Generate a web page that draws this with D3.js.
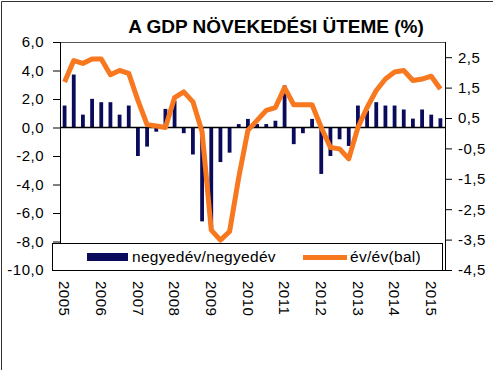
<!DOCTYPE html>
<html>
<head>
<meta charset="utf-8">
<script src="https://cdn.jsdelivr.net/npm/d3@7.9.0/dist/d3.min.js"></script>
<style>
  body { margin: 0; background: #fff; }
  svg text { font-family: "Liberation Sans", Arial, sans-serif; fill: #000; }
</style>
</head>
<body>
<svg id="chart" width="493" height="370"></svg>
<script>
// years shown on the category axis, quarters from 2005 Q1 to 2015 Q2
const years = [2005, 2006, 2007, 2008, 2009, 2010, 2011, 2012, 2013, 2014, 2015];
const quarters = years.flatMap(y => [1, 2, 3, 4].map(q => `${y} Q${q}`)).slice(0, 42);

// negyedév/negyedév (right axis)
const qoq = [0.91, 1.93, 0.61, 1.13, 1.02, 1.02, 0.61, 0.91,
  -0.75, -0.44, 0.05, 0.8, 1.07, 0.0, -0.7, -2.9,
  -3.2, -0.95, -0.64, 0.3, 0.47, 0.3, 0.3, 0.41,
  1.57, -0.36, 0.0, 0.47, -1.34, -0.75, -0.2, -0.42,
  0.91, 0.74, 1.02, 0.91, 0.91, 0.78, 0.48, 0.78,
  0.61, 0.49];

// év/év (left axis)
const yoy = [3.2, 4.7, 4.5, 4.8, 4.8, 3.7, 4.0, 3.8,
  1.9, 0.2, 0.1, 0.0, 2.1, 2.5, 1.8, -0.3,
  -7.2, -7.9, -7.3, -3.5, -0.2, 0.5, 1.2, 1.4,
  2.8, 1.6, 1.6, 1.6, 0.0, -1.4, -1.5, -2.2,
  0.0, 1.4, 2.6, 3.4, 3.9, 4.0, 3.3, 3.4,
  3.6, 2.7];

const leftTicks = [6, 4, 2, 0, -2, -4, -6, -8, -10];
const rightTicks = [2.5, 1.5, 0.5, -0.5, -1.5, -2.5, -3.5, -4.5];

const svg = d3.select('#chart');
const locale = d3.formatLocale({ decimal: ',', thousands: ' ', grouping: [3], currency: ['', ''], minus: '-' });
const fmt = locale.format('.1f');

const x = d3.scaleBand().domain(quarters).range([60, 445]);
const yL = d3.scaleLinear().domain([-10, 6]).range([270, 42]);
const yR = d3.scaleLinear().domain([-4.5, 3]).range([270, 42]);

// outer frame (left + top)
svg.append('path').attr('d', 'M1.5,370V1.5H493').attr('fill', 'none').attr('stroke', '#333');

// title
svg.append('text')
  .attr('x', 276).attr('y', 33)
  .attr('text-anchor', 'middle')
  .style('font-size', '19px').style('font-weight', 'bold')
  .text('A GDP NÖVEKEDÉSI ÜTEME (%)');

// plot top border
svg.append('line').attr('x1', 60).attr('x2', 445).attr('y1', 42.5).attr('y2', 42.5)
  .attr('stroke', '#555');

// bars start at the zero line
const base = yL(0);
const bw = 3.8;
svg.append('g').selectAll('rect')
  .data(qoq)
  .join('rect')
  .attr('x', (d, i) => x(quarters[i]) + x.bandwidth() / 2 - bw / 2)
  .attr('width', bw)
  .attr('y', d => Math.min(base, yR(d)))
  .attr('height', d => Math.abs(yR(d) - base))
  .attr('fill', '#0b0b5c');

// zero line
svg.append('line').attr('x1', 60).attr('x2', 445).attr('y1', base).attr('y2', base)
  .attr('stroke', '#000').attr('stroke-width', 1.5);

// yoy line
const line = d3.line()
  .x((d, i) => x(quarters[i]) + x.bandwidth() / 2)
  .y(d => yL(d));
svg.append('path')
  .datum(yoy)
  .attr('d', line)
  .attr('fill', 'none')
  .attr('stroke', '#f7781e')
  .attr('stroke-width', 5)
  .attr('stroke-linejoin', 'round');

// axes
const axL = svg.append('g').attr('transform', 'translate(60,0)')
  .call(d3.axisLeft(yL).tickValues(leftTicks).tickFormat(fmt).tickSize(7).tickPadding(9));
const axR = svg.append('g').attr('transform', 'translate(445,0)')
  .call(d3.axisRight(yR).tickValues(rightTicks).tickFormat(fmt).tickSize(7).tickPadding(6));
const axB = svg.append('g').attr('transform', 'translate(0,270)')
  .call(d3.axisBottom(x).tickValues(years.map(y => `${y} Q1`)).tickFormat(d => d.slice(0, 4)).tickSize(0));

[axL, axR, axB].forEach(g => {
  g.selectAll('path.domain').attr('stroke', '#000');
  g.selectAll('line').attr('stroke', '#000');
  g.selectAll('text').style('font-size', '15px').style('font-family', '"Liberation Sans", Arial, sans-serif')
    .style('letter-spacing', '0.5px');
});
axL.select('path.domain').attr('d', 'M0.5,42V270');
axR.select('path.domain').attr('d', 'M0.5,42V270');
axB.selectAll('text')
  .attr('y', 0).attr('x', 11).attr('dy', '0.35em')
  .attr('transform', 'rotate(90)')
  .style('text-anchor', 'start');

// legend box covering the bottom of the plot
const lg = svg.append('g');
lg.append('rect').attr('x', 52.5).attr('y', 243.5).attr('width', 390).attr('height', 27)
  .attr('fill', '#fff').attr('stroke', '#000');
lg.append('rect').attr('x', 87).attr('y', 253).attr('width', 41).attr('height', 8).attr('fill', '#0b0b5c');
lg.append('text').attr('x', 132).attr('y', 262).style('font-size', '15.5px').style('letter-spacing', '0.3px')
  .text('negyedév/negyedév');
lg.append('line').attr('x1', 303).attr('x2', 347).attr('y1', 257.5).attr('y2', 257.5)
  .attr('stroke', '#f7781e').attr('stroke-width', 5);
lg.append('text').attr('x', 350).attr('y', 262).style('font-size', '15.5px').style('letter-spacing', '0.3px')
  .text('év/év(bal)');
</script>
</body>
</html>
